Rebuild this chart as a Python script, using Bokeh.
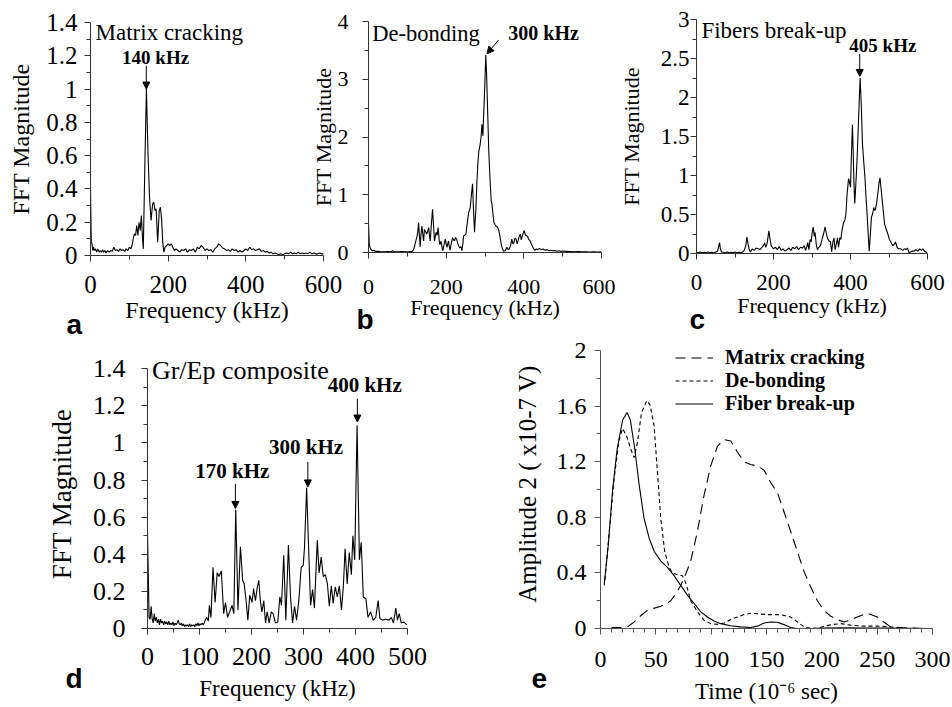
from bokeh.plotting import figure
from bokeh.models import Range1d, FixedTicker, Label, Arrow, NormalHead, Legend, LegendItem
from bokeh.layouts import row, column
from bokeh.embed import file_html
from bokeh.resources import INLINE

SERIF = "Liberation Serif"
SANS = "Liberation Sans"

# ---------------- data: panel a (Matrix cracking) ----------------
freq_a = [0, 2, 4, 6, 8, 10, 13, 16, 19, 22, 25, 28, 31, 34, 37, 40, 44, 48, 52, 56, 60, 64, 68, 72, 76, 80,
          84, 88, 92, 96, 100, 104, 107, 110, 113, 116, 119, 122, 125, 128, 131, 134, 136, 140, 144, 148, 152,
          156, 160, 163, 166, 169, 173, 177, 180, 183, 186, 189, 192, 196, 200, 204, 208, 212, 216, 220, 225,
          230, 235, 240, 245, 250, 255, 260, 265, 270, 275, 280, 285, 290, 295, 300, 305, 310, 315, 320, 325,
          330, 335, 340, 345, 350, 355, 360, 365, 370, 375, 380, 385, 390, 395, 400, 405, 410, 415, 420, 425,
          430, 435, 440, 445, 450, 455, 460, 465, 470, 475, 480, 485, 490, 495, 500, 505, 510, 515, 520, 525,
          530, 535, 540, 545, 550, 555, 560, 565, 570, 575, 580, 585, 590, 595, 600]
mag_a = [0.40, 0.08, 0.07, 0.03, 0.05, 0.03, 0.04, 0.02, 0.04, 0.02, 0.03, 0.02, 0.035, 0.02, 0.03, 0.015,
         0.03, 0.02, 0.03, 0.025, 0.05, 0.03, 0.035, 0.025, 0.04, 0.03, 0.035, 0.025, 0.04, 0.03, 0.05, 0.04,
         0.06, 0.10, 0.13, 0.12, 0.18, 0.12, 0.20, 0.15, 0.24, 0.10, 0.04, 0.55, 1.00, 0.62, 0.35, 0.21, 0.31,
         0.32, 0.27, 0.28, 0.08, 0.27, 0.29, 0.22, 0.08, 0.02, 0.05, 0.06, 0.07, 0.06, 0.07, 0.05, 0.03, 0.04,
         0.03, 0.02, 0.035, 0.03, 0.04, 0.02, 0.035, 0.03, 0.04, 0.02, 0.05, 0.04, 0.06, 0.05, 0.03, 0.04, 0.03,
         0.035, 0.02, 0.04, 0.05, 0.07, 0.06, 0.045, 0.04, 0.03, 0.035, 0.025, 0.04, 0.03, 0.035, 0.02, 0.03,
         0.02, 0.03, 0.04, 0.03, 0.05, 0.035, 0.04, 0.03, 0.035, 0.04, 0.025, 0.03, 0.02, 0.025, 0.015, 0.02,
         0.01, 0.015, 0.01, 0.005, 0.01, 0.005, 0.01, 0.015, 0.01, 0.02, 0.01, 0.015, 0.01, 0.02, 0.01, 0.015,
         0.01, 0.015, 0.01, 0.02, 0.01, 0.015, 0.01, 0.01, 0.015, 0.01, 0.01]

# ---------------- data: panel b (De-bonding) ----------------
freq_b = [0, 2, 4, 7, 10, 14, 18, 24, 30, 40, 50, 58, 62, 66, 75, 85, 95, 105, 112, 116, 119, 122, 125, 127,
          129, 131, 133, 135, 137.5, 140, 142, 144, 147, 150, 153, 155, 157, 159, 162, 165, 168, 170, 172, 174,
          177, 179, 181, 183, 185, 187, 189, 191.6, 194, 197.6, 200, 202, 204, 206, 208, 210, 213, 216.5, 219,
          221.6, 224, 227, 230, 232, 235, 238, 240.5, 243, 245, 248, 251, 254, 258, 262, 265, 268, 270, 273,
          275, 276.6, 279, 281.8, 284, 287, 290, 292, 294.7, 296, 298, 300, 302, 304, 307.5, 310, 313.6, 316,
          318, 320, 323, 326, 328, 331, 335, 338, 342, 345, 348, 352, 356.5, 360, 362.5, 366, 369, 372, 374.6,
          377, 380, 383, 385, 388, 391, 393, 395, 398, 401, 404, 407, 410, 412, 416, 421, 425, 428, 432, 436,
          440, 445, 450, 455, 460, 465, 470, 475, 480, 485, 490, 495, 500, 510, 520, 530, 540, 550, 560, 570,
          580, 590, 600]
mag_b = [0.52, 0.15, 0.08, 0.05, 0.03, 0.04, 0.02, 0.02, 0.015, 0.01, 0.015, 0.01, 0.03, 0.01, 0.01, 0.015,
         0.01, 0.015, 0.02, 0.05, 0.12, 0.20, 0.28, 0.36, 0.52, 0.30, 0.10, 0.30, 0.46, 0.30, 0.20, 0.40, 0.36,
         0.32, 0.38, 0.43, 0.30, 0.20, 0.50, 0.75, 0.40, 0.20, 0.28, 0.35, 0.30, 0.43, 0.30, 0.14, 0.15, 0.20,
         0.10, 0.03, 0.12, 0.23, 0.15, 0.09, 0.15, 0.20, 0.10, 0.04, 0.15, 0.26, 0.22, 0.20, 0.26, 0.23, 0.15,
         0.12, 0.08, 0.10, 0.03, 0.15, 0.29, 0.30, 0.32, 0.50, 0.69, 0.78, 1.00, 1.19, 0.80, 0.35, 0.60, 0.75,
         1.20, 1.56, 1.75, 1.85, 2.00, 2.22, 2.02, 2.30, 2.63, 3.00, 3.42, 3.10, 2.28, 1.70, 1.18, 0.90, 0.84,
         0.70, 0.52, 0.48, 0.46, 0.45, 0.40, 0.30, 0.14, 0.06, 0.02, 0.03, 0.09, 0.05, 0.06, 0.12, 0.23, 0.15,
         0.17, 0.25, 0.23, 0.15, 0.20, 0.28, 0.32, 0.22, 0.26, 0.33, 0.38, 0.30, 0.29, 0.28, 0.23, 0.20, 0.12,
         0.07, 0.04, 0.06, 0.05, 0.07, 0.05, 0.06, 0.04, 0.05, 0.03, 0.04, 0.03, 0.035, 0.02, 0.03, 0.02, 0.025,
         0.02, 0.015, 0.01, 0.015, 0.01, 0.01, 0.008, 0.01, 0.008, 0.01]

# ---------------- data: panel c (Fibers break-up) ----------------
freq_c = [0, 5, 10, 15, 20, 25, 30, 35, 40, 45, 50, 55, 58, 60, 62, 65, 70, 75, 80, 85, 90, 95, 100, 105, 110,
          115, 120, 124, 128, 131, 134, 137, 140, 145, 150, 155, 160, 165, 170, 174, 177, 180, 183, 186, 188,
          191, 194, 197, 200, 205, 210, 215, 220, 225, 230, 235, 240, 245, 250, 255, 260, 265, 270, 275, 280,
          283, 286, 289, 292, 295, 298, 300, 303, 306, 308, 311, 314, 318, 322, 326, 330, 334, 337, 340, 344,
          348, 351, 354, 357, 360, 363, 366, 369, 372, 375, 378, 382, 385, 388, 391, 395, 398, 400, 402, 405,
          407, 409, 411, 414, 417, 420, 423, 425, 428, 431, 434, 437.5, 440, 443, 446, 448.6, 451, 454.5, 457,
          460.5, 463, 465, 468, 471.5, 474, 476.6, 479, 481.7, 485, 488.5, 492, 497, 501, 505.5, 510, 514, 517,
          521, 525, 531, 536, 540, 544, 548, 552, 556, 560, 565, 570, 575, 580, 584, 588, 592, 596, 600]
mag_c = [0.02, 0.01, 0.02, 0.01, 0.015, 0.01, 0.02, 0.01, 0.015, 0.01, 0.02, 0.03, 0.10, 0.14, 0.06, 0.02,
         0.015, 0.01, 0.02, 0.01, 0.015, 0.01, 0.02, 0.01, 0.015, 0.01, 0.02, 0.04, 0.10, 0.21, 0.12, 0.05,
         0.02, 0.06, 0.04, 0.07, 0.06, 0.05, 0.08, 0.10, 0.14, 0.08, 0.12, 0.22, 0.29, 0.18, 0.10, 0.08, 0.06,
         0.08, 0.05, 0.09, 0.04, 0.06, 0.03, 0.05, 0.07, 0.04, 0.08, 0.06, 0.09, 0.05, 0.08, 0.07, 0.10, 0.04,
         0.08, 0.14, 0.05, 0.18, 0.15, 0.25, 0.34, 0.22, 0.27, 0.12, 0.05, 0.08, 0.10, 0.18, 0.25, 0.34, 0.26,
         0.20, 0.16, 0.15, 0.02, 0.14, 0.20, 0.05, 0.12, 0.20, 0.08, 0.20, 0.18, 0.30, 0.40, 0.42, 0.50, 0.75,
         0.96, 0.90, 0.85, 1.20, 1.65, 1.30, 0.90, 0.64, 0.90, 1.20, 1.60, 2.00, 2.25, 1.90, 1.41, 1.20, 0.98,
         0.75, 0.51, 0.25, 0.03, 0.20, 0.47, 0.50, 0.59, 0.55, 0.57, 0.65, 0.79, 0.90, 0.97, 0.85, 0.72, 0.55,
         0.38, 0.32, 0.25, 0.18, 0.14, 0.10, 0.12, 0.15, 0.08, 0.06, 0.06, 0.04, 0.06, 0.05, 0.07, 0.01, 0.02,
         0.03, 0.03, 0.05, 0.03, 0.06, 0.04, 0.06, 0.03, 0.02, 0.01]

# ---------------- data: panel d (Gr/Ep composite) ----------------
freq_d = [0, 3, 5, 7, 9, 11, 13, 15, 17, 19, 21, 23, 25, 27, 29, 31, 33, 35, 37, 39, 41, 43, 45, 47, 49, 51,
          53, 55, 57, 59, 61, 63, 65, 67, 69, 71, 73, 75, 77, 79, 81, 83, 85, 87, 89, 91, 93, 95, 97, 99, 101,
          103, 105, 107, 109, 111, 114, 117, 119, 122, 126, 130, 134, 137.5, 142, 146.5, 150, 154, 158, 162.6,
          166, 169.7, 174, 178.7, 183, 186, 190, 193, 196.7, 201, 204, 207.6, 211, 214, 217, 220, 223.6, 227,
          230, 234, 238, 241.6, 246, 250.6, 254.5, 257.7, 262, 266, 271, 275, 279, 282.8, 286.6, 291, 295.5,
          299.5, 302, 306, 310, 313.6, 317.5, 321, 326.5, 330, 334, 338, 342, 346, 349.6, 353.5, 357, 361, 365,
          369, 373, 376.6, 380, 384, 388, 392, 395, 398.5, 403, 407.5, 411, 415, 420, 424, 429, 434, 439, 443.5,
          447, 452, 458, 464.6, 469, 473, 477.5, 480.7, 484, 488, 493.6, 498.7]
mag_d = [0.52, 0.06, 0.05, 0.12, 0.05, 0.03, 0.08, 0.04, 0.06, 0.03, 0.05, 0.02, 0.05, 0.03, 0.04, 0.02, 0.04,
         0.025, 0.035, 0.02, 0.04, 0.02, 0.03, 0.02, 0.035, 0.015, 0.03, 0.02, 0.03, 0.045, 0.025, 0.02, 0.03,
         0.015, 0.025, 0.01, 0.02, 0.015, 0.02, 0.01, 0.025, 0.01, 0.02, 0.015, 0.02, 0.01, 0.025, 0.015, 0.03,
         0.015, 0.025, 0.02, 0.03, 0.02, 0.03, 0.045, 0.06, 0.04, 0.125, 0.06, 0.33, 0.14, 0.30, 0.28, 0.31, 0.08,
         0.14, 0.06, 0.09, 0.125, 0.08, 0.64, 0.10, 0.44, 0.26, 0.24, 0.14, 0.045, 0.18, 0.14, 0.215, 0.15, 0.22,
         0.26, 0.15, 0.09, 0.15, 0.03, 0.09, 0.03, 0.09, 0.08, 0.03, 0.035, 0.17, 0.125, 0.395, 0.045, 0.45,
         0.17, 0.03, 0.12, 0.045, 0.15, 0.33, 0.34, 0.44, 0.76, 0.42, 0.125, 0.21, 0.11, 0.475, 0.30, 0.385,
         0.28, 0.29, 0.24, 0.12, 0.23, 0.135, 0.225, 0.17, 0.23, 0.10, 0.225, 0.43, 0.24, 0.41, 0.29, 0.50, 0.37,
         1.095, 0.37, 0.465, 0.17, 0.16, 0.06, 0.09, 0.045, 0.06, 0.15, 0.054, 0.045, 0.05, 0.045, 0.06, 0.03,
         0.11, 0.045, 0.08, 0.03, 0.035, 0.02]

# ---------------- data: panel e (Amplitude^2 vs time) ----------------
time_mc = [10, 20, 25, 30.4, 36, 42.4, 48, 54.5, 60, 63.5, 68, 72.5, 77, 81.5, 87.6, 93.6, 99.6, 105.6, 111.6,
           117.7, 123.7, 129.7, 135.7, 141.7, 147.8, 153.8, 159.8, 165.8, 171.8, 177.8, 183.9, 189.9, 196, 202,
           208, 214, 220, 226, 232, 241, 250, 256, 262, 274, 292]
amp_mc = [0.007, 0.007, 0.015, 0.047, 0.09, 0.13, 0.145, 0.16, 0.18, 0.20, 0.25, 0.31, 0.39, 0.485, 0.70, 0.96,
          1.17, 1.31, 1.36, 1.35, 1.27, 1.20, 1.18, 1.17, 1.14, 1.05, 0.98, 0.84, 0.70, 0.556, 0.41, 0.30, 0.20,
          0.13, 0.088, 0.064, 0.047, 0.06, 0.083, 0.11, 0.083, 0.047, 0.012, 0.005, 0.0]
time_db = [4, 8, 12.3, 16.9, 20, 23.8, 27.4, 30.4, 33.4, 37, 41.8, 44.8, 48.4, 51.5, 54.5, 58, 62, 65, 68, 71,
           74, 77, 81.5, 87.6, 93.6, 99.6, 105.6, 111.6, 117.7, 123.7, 129.7, 135.7, 141.7, 150.8, 162.8, 171.8,
           180.9, 185, 196, 202, 211, 217, 226, 238, 250, 262, 274, 290, 300]
amp_db = [0.35, 0.70, 1.08, 1.36, 1.44, 1.38, 1.29, 1.23, 1.34, 1.55, 1.64, 1.61, 1.46, 1.12, 0.79, 0.556, 0.44,
          0.40, 0.39, 0.386, 0.38, 0.33, 0.20, 0.12, 0.06, 0.035, 0.03, 0.04, 0.064, 0.083, 0.10, 0.11, 0.106,
          0.10, 0.10, 0.083, 0.03, 0.007, 0.0, 0.017, 0.03, 0.035, 0.024, 0.017, 0.017, 0.012, 0.0, 0.0, 0.0]
time_fb = [3.3, 7, 11, 15, 20, 24, 27, 31, 35, 39.4, 44, 48.5, 54.5, 60.5, 66.5, 72.5, 78.5, 84.6, 90.6, 96.6,
           102.6, 108.6, 117.7, 126.7, 135.7, 141.7, 147.8, 153.8, 159.8, 165.8, 171.8, 177.8, 190, 200, 220, 240,
           260, 280, 300]
amp_fb = [0.31, 0.60, 1.00, 1.29, 1.50, 1.555, 1.50, 1.29, 1.03, 0.79, 0.65, 0.556, 0.485, 0.44, 0.38, 0.31,
          0.24, 0.18, 0.12, 0.083, 0.054, 0.035, 0.02, 0.012, 0.007, 0.017, 0.04, 0.047, 0.045, 0.028, 0.007, 0.0,
          0.0, 0.003, 0.005, 0.004, 0.003, 0.002, 0.0]

# ---------------- ticks ----------------
xt_600 = [0, 200, 400, 600]
xl_600 = ["0", "200", "400", "600"]
xm_600 = [100, 300, 500]
yt_a = [0, 0.2, 0.4, 0.6, 0.8, 1, 1.2, 1.4]
yl_a = ["0", "0.2", "0.4", "0.6", "0.8", "1", "1.2", "1.4"]
ym_a = [0.1, 0.3, 0.5, 0.7, 0.9, 1.1, 1.3]
yt_b = [0, 1, 2, 3, 4]
yl_b = ["0", "1", "2", "3", "4"]
ym_b = [0.5, 1.5, 2.5, 3.5]
yt_c = [0, 0.5, 1, 1.5, 2, 2.5, 3]
yl_c = ["0", "0.5", "1", "1.5", "2", "2.5", "3"]
ym_c = [0.25, 0.75, 1.25, 1.75, 2.25, 2.75]
xt_d = [0, 100, 200, 300, 400, 500]
xl_d = ["0", "100", "200", "300", "400", "500"]
xm_d = [50, 150, 250, 350, 450]
xt_e = [0, 50, 100, 150, 200, 250, 300]
xl_e = ["0", "50", "100", "150", "200", "250", "300"]
xm_e = [t for t in range(10, 300, 10) if t % 50 != 0]
yt_e = [0, 0.4, 0.8, 1.2, 1.6, 2]
yl_e = ["0", "0.4", "0.8", "1.2", "1.6", "2"]
ym_e = [0.2, 0.6, 1, 1.4, 1.8]

legend_e = ["Matrix cracking", "De-bonding", "Fiber break-up"]
panel_letters = ["a", "b", "c", "d", "e"]


def style_fig(p):
    p.outline_line_color = None
    p.grid.visible = False
    p.background_fill_color = None
    p.border_fill_color = None
    return p


def base_fig(w, h, left, right, top, bottom, xr, yr, margin=None):
    kw = {}
    if margin is not None:
        kw["margin"] = margin
    p = figure(width=w, height=h, x_range=Range1d(*xr), y_range=Range1d(*yr),
               output_backend="svg", toolbar_location=None, title=None, frame_align=False,
               min_border_left=left, min_border_right=right,
               min_border_top=top, min_border_bottom=bottom, **kw)
    return style_fig(p)


def letter_fig(w, h, text, lx, ly, margin):
    p = figure(width=w, height=h, x_range=Range1d(0, w), y_range=Range1d(0, h),
               output_backend="svg", toolbar_location=None, title=None, frame_align=False,
               x_axis_type=None, y_axis_type=None, min_border=0, margin=margin)
    style_fig(p)
    p.add_layout(Label(x=lx, y=ly, text=text, text_font=SANS, text_font_size="28px",
                       text_font_style="bold", text_align="left", text_baseline="alphabetic",
                       text_color="black"))
    return p


def style_axes(p, xt, xl, xm, yt, yl, ym, tick_px, xlab, ylab, xlab_px, ylab_px,
               x_stand, y_stand, xlab_stand, ylab_stand, color="#333333", ybounds=None):
    xa, ya = p.xaxis[0], p.yaxis[0]
    xa.ticker = FixedTicker(ticks=xt, minor_ticks=xm)
    ya.ticker = FixedTicker(ticks=yt, minor_ticks=ym)
    xa.major_label_overrides = dict(zip(xt, xl))
    ya.major_label_overrides = dict(zip(yt, yl))
    if ybounds is not None:
        ya.bounds = ybounds
    xa.axis_label = xlab
    ya.axis_label = ylab
    for ax, lab_px, stand, lab_stand in ((xa, xlab_px, x_stand, xlab_stand),
                                         (ya, ylab_px, y_stand, ylab_stand)):
        ax.axis_line_color = color
        ax.axis_line_width = 1
        ax.major_tick_line_color = color
        ax.minor_tick_line_color = color
        ax.major_tick_in = 0
        ax.major_tick_out = 6
        ax.minor_tick_in = 0
        ax.minor_tick_out = 4
        ax.major_label_text_font = SERIF
        ax.major_label_text_font_size = f"{tick_px}px"
        ax.major_label_text_color = "black"
        ax.major_label_standoff = stand
        ax.axis_label_text_font = SERIF
        ax.axis_label_text_font_size = f"{lab_px}px"
        ax.axis_label_text_font_style = "normal"
        ax.axis_label_text_color = "black"
        ax.axis_label_standoff = lab_stand


def add_text(p, x, y, text, size, bold=False, align="left", font=SERIF):
    p.add_layout(Label(x=x, y=y, text=text, text_font=font, text_font_size=f"{size}px",
                       text_font_style="bold" if bold else "normal", text_align=align,
                       text_baseline="alphabetic", text_color="black"))


def add_arrow(p, x0, y0, x1, y1):
    p.add_layout(Arrow(end=NormalHead(size=7, fill_color="black", line_color="black", line_width=1),
                       x_start=x0, y_start=y0, x_end=x1, y_end=y1,
                       line_color="black", line_width=1))


# ---------------- panel a ----------------
pa = base_fig(345, 340, 90, 22, 22, 85, (0, 600), (0, 1.4))
pa.line(freq_a, mag_a, line_color="black", line_width=1.1)
style_axes(pa, xt_600, xl_600, xm_600, yt_a, yl_a, ym_a, 25, "Frequency (kHz)", "FFT Magnitude",
           24, 24, 14, 7, 1, 9)
add_text(pa, 13, 1.34, "Matrix cracking", 23)
add_text(pa, 167.7, 1.19, "140 kHz", 19, bold=True, align="center")
add_arrow(pa, 143.7, 1.14, 143.7, 1.0)

# ---------------- panel b ----------------
pb = base_fig(315, 340, 68, 14, 21, 88, (0, 600), (0, 4), margin=(0, 0, 0, -45))
pb.line(freq_b, mag_b, line_color="black", line_width=1.1)
style_axes(pb, xt_600, xl_600, xm_600, yt_b, yl_b, ym_b, 22, "Frequency (kHz)", "FFT Magnitude",
           22, 22, 21, 14, -2, -1)
add_text(pb, 9.5, 3.79, "De-bonding", 22.5)
add_text(pb, 360, 3.80, "300 kHz", 20, bold=True)
add_arrow(pb, 335, 3.68, 305, 3.44)

# ---------------- panel c ----------------
pc = base_fig(336, 340, 77, 24, 19, 87, (0, 600), (0, 3))
pc.line(freq_c, mag_c, line_color="black", line_width=1.1)
style_axes(pc, xt_600, xl_600, xm_600, yt_c, yl_c, ym_c, 23, "Frequency (kHz)", "FFT Magnitude",
           22, 22, 15, 1, 0, 14)
add_text(pc, 12.8, 2.86, "Fibers break-up", 23)
add_text(pc, 484, 2.664, "405 kHz", 19, bold=True, align="center")
add_arrow(pc, 424, 2.56, 424, 2.27)

# ---------------- panel d ----------------
pd_ = base_fig(450, 366, 147, 43, 19, 78, (0, 500), (0, 1.45))
pd_.line(freq_d, mag_d, line_color="black", line_width=1.1)
style_axes(pd_, xt_d, xl_d, xm_d, yt_a, yl_a, ym_a, 26, "Frequency (kHz)", "FFT Magnitude",
           23, 27, 13, 16, 8, 13, ybounds=(0, 1.4))
add_text(pd_, 8.5, 1.393, "Gr/Ep composite", 26)
add_text(pd_, 163, 0.85, "170 kHz", 21, bold=True, align="center")
add_arrow(pd_, 169, 0.78, 169, 0.647)
add_text(pd_, 305, 0.98, "300 kHz", 21, bold=True, align="center")
add_arrow(pd_, 308.4, 0.898, 308.4, 0.763)
add_text(pd_, 417.7, 1.31, "400 kHz", 21, bold=True, align="center")
add_arrow(pd_, 403.6, 1.239, 403.6, 1.113)

# ---------------- panel e ----------------
pe = base_fig(500, 376, 150, 18, 9, 74, (0, 300), (0, 2.08), margin=(-10, 0, 0, 0))
r_mc = pe.line(time_mc, amp_mc, line_color="black", line_width=1.1, line_dash="10 6")
r_db = pe.line(time_db, amp_db, line_color="black", line_width=1.1, line_dash="4 3")
r_fb = pe.line(time_fb, amp_fb, line_color="black", line_width=1.1)
style_axes(pe, xt_e, xl_e, xm_e, yt_e, yl_e, ym_e, 24, "Time (10\u207b\u2076 sec)", "Amplitude 2 ( x10-7 V)",
           23, 25, 17, 8, 9, 13, color="#555555", ybounds=(0, 2))
leg = Legend(items=[LegendItem(label=legend_e[0], renderers=[r_mc]),
                    LegendItem(label=legend_e[1], renderers=[r_db]),
                    LegendItem(label=legend_e[2], renderers=[r_fb])],
             location=(75, 213), glyph_width=38, glyph_height=23, label_height=23,
             label_standoff=12, spacing=0, padding=0, margin=0,
             border_line_color=None, background_fill_alpha=0,
             label_text_font=SERIF, label_text_font_style="bold", label_text_font_size="20px",
             label_text_color="black")
pe.add_layout(leg)

# ---------------- panel letters (small overlay canvases) ----------------
la = letter_fig(30, 40, panel_letters[0], 6, 16, (-40, 0, 0, 60))
lb = letter_fig(30, 40, panel_letters[1], 6, 21, (-40, 0, 0, 260))
lc = letter_fig(30, 40, panel_letters[2], 6, 21, (-40, 0, 0, 303))
ld = letter_fig(35, 50, panel_letters[3], 5, 28, (-50, 0, 0, 60))
le = letter_fig(30, 50, panel_letters[4], 5, 28, (-50, 0, 0, 431))

layout = column(row(pa, pb, pc), row(la, lb, lc), row(pd_, pe), row(ld, le))
open("out.html", "w").write(file_html(layout, INLINE))
